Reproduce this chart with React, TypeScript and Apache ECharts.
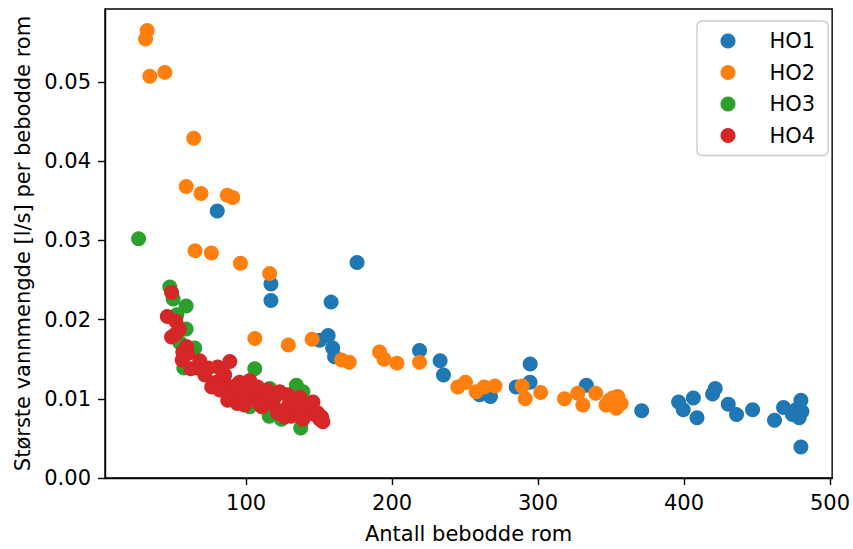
import React, { useEffect, useRef } from "react";
import * as echarts from "echarts";

const seriesNames = ["HO1", "HO2", "HO3", "HO4"];
const colors = ["#1f77b4", "#ff7f0e", "#2ca02c", "#d62728"];

const xTicks = [100, 200, 300, 400, 500];
const yTicks = [0, 0.01, 0.02, 0.03, 0.04, 0.05];

const ho1X = [80.2, 117.0, 117.0, 176.0, 158.2, 150.4, 156.2, 159.3, 160.6, 218.8, 232.9, 235.2, 259.9, 267.4, 294.6, 294.5, 285.0, 333.1, 371.0, 396.3, 399.5, 406.4, 408.9, 419.6, 421.4, 430.3, 436.0, 447.0, 462.0, 468.2, 474.3, 476.7, 480.1, 480.8, 478.9, 480.1];
const ho1Y = [0.0337, 0.0245, 0.0224, 0.0272, 0.0222, 0.0174, 0.018, 0.0164, 0.0153, 0.0161, 0.0148, 0.013, 0.0105, 0.0103, 0.0144, 0.0121, 0.0115, 0.0117, 0.0085, 0.0096, 0.0086, 0.0101, 0.0076, 0.0106, 0.0113, 0.0093, 0.008, 0.0086, 0.0073, 0.0089, 0.008, 0.0086, 0.0098, 0.0084, 0.0076, 0.0039];

const ho2X = [32.2, 31.1, 34.0, 44.3, 64.1, 58.9, 69.1, 87.1, 90.8, 65.0, 76.2, 96.1, 116.1, 106.0, 128.9, 145.2, 165.4, 170.6, 191.4, 194.5, 203.3, 218.8, 245.0, 250.3, 257.6, 263.1, 270.5, 289.1, 291.2, 301.8, 318.1, 327.2, 330.7, 339.5, 346.6, 351.1, 354.6, 353.5, 356.9, 348.9];
const ho2Y = [0.0565, 0.0554, 0.0507, 0.0512, 0.0429, 0.0368, 0.0359, 0.0357, 0.0354, 0.0287, 0.0284, 0.0271, 0.0258, 0.0176, 0.0168, 0.0175, 0.0149, 0.0146, 0.0159, 0.015, 0.0145, 0.0146, 0.0115, 0.0121, 0.0109, 0.0115, 0.0116, 0.0116, 0.01, 0.0108, 0.01, 0.0107, 0.0092, 0.0107, 0.0092, 0.0101, 0.0103, 0.0088, 0.0094, 0.0098];

const ho3X = [26.3, 47.7, 50.0, 58.9, 52.5, 58.9, 54.5, 64.8, 57.3, 105.9, 134.4, 138.9, 102.5, 115.8, 124.2, 137.4, 116.1, 131.2, 95.6];
const ho3Y = [0.0302, 0.0241, 0.0226, 0.0217, 0.0206, 0.0188, 0.0171, 0.0164, 0.0139, 0.0138, 0.0117, 0.0109, 0.009, 0.0078, 0.0074, 0.0063, 0.0113, 0.009, 0.0105];

const ho4X = [48.9, 46.0, 54.3, 48.9, 59.1, 56.2, 62.1, 66.4, 73.9, 78.8, 88.8, 84.7, 93.3, 93.9, 97.9, 95.6, 92.2, 104.7, 104.7, 109.3, 112.7, 118.4, 123.0, 126.4, 129.8, 131.0, 135.7, 138.9, 145.8, 146.9, 152.6, 150.4, 116.1, 125.2, 86.5, 79.7, 91.0, 85.3, 142.2, 99.7, 51.8, 56.6,
  71.7, 76.4, 81.9, 87.4, 99.0, 102.5, 107.9, 110.7, 114.8, 119.6, 121.6, 128.5, 133.3, 136.7, 140.1, 143.5, 149.0, 151.7, 136.7, 126.4, 112.7, 60.0, 68.2, 80.5, 51.8];
const ho4Y = [0.0234, 0.0204, 0.0188, 0.0178, 0.0166, 0.0149, 0.0138, 0.0139, 0.0139, 0.012, 0.0147, 0.0131, 0.0117, 0.0094, 0.0113, 0.0121, 0.0109, 0.011, 0.01, 0.0094, 0.0105, 0.0092, 0.0109, 0.0086, 0.0096, 0.0078, 0.0086, 0.0074, 0.0096, 0.008, 0.0071, 0.0074, 0.0096, 0.0084, 0.0117, 0.0121, 0.0105, 0.013, 0.0082, 0.0102, 0.0182, 0.0159,
  0.013, 0.0115, 0.0111, 0.0098, 0.0092, 0.0123, 0.0115, 0.009, 0.0111, 0.0102, 0.0082, 0.0105, 0.0095, 0.008, 0.0092, 0.009, 0.0082, 0.0077, 0.0102, 0.0077, 0.0098, 0.0157, 0.0148, 0.014, 0.0198];

const xs = [ho1X, ho2X, ho3X, ho4X];
const ys = [ho1Y, ho2Y, ho3Y, ho4Y];

const FONT = "DejaVu Sans";

export default function App() {
  const ref = useRef<HTMLDivElement>(null);
  useEffect(() => {
    if (!ref.current) return;
    const chart = echarts.init(ref.current, null, { renderer: "svg" });
    chart.setOption({
      animation: false,
      grid: {
        left: 105,
        right: 20,
        top: 9,
        bottom: 65,
        show: true,
        borderColor: "#000",
        borderWidth: 1.4,
        backgroundColor: "transparent",
      },
      legend: {
        data: seriesNames,
        orient: "vertical",
        left: 697,
        top: 21,
        icon: "circle",
        itemWidth: 15,
        itemHeight: 15,
        itemGap: 9.5,
        padding: [9, 13, 9, 23.5],
        backgroundColor: "rgba(255,255,255,0.8)",
        borderColor: "#cccccc",
        borderWidth: 1.4,
        borderRadius: 5,
        textStyle: {
          fontFamily: FONT,
          fontSize: 21,
          color: "#000",
          lineHeight: 22,
          padding: [0, 0, 0, 29],
        },
      },
      xAxis: {
        type: "value",
        min: 3.3,
        max: 501.5,
        name: "Antall bebodde rom",
        nameLocation: "middle",
        nameGap: 45,
        nameTextStyle: { fontFamily: FONT, fontSize: 21, color: "#000" },
        axisLine: { show: true, onZero: false, lineStyle: { color: "#000", width: 1.4 } },
        axisTick: { show: true, length: 7, lineStyle: { color: "#000", width: 1.4 }, customValues: xTicks },
        axisLabel: { fontFamily: FONT, fontSize: 21, color: "#000", margin: 14, customValues: xTicks },
        splitLine: { show: false },
      },
      yAxis: {
        type: "value",
        min: 0,
        max: 0.0592,
        name: "Største vannmengde [l/s] per bebodde rom",
        nameLocation: "middle",
        nameRotate: 90,
        nameGap: 70,
        nameTextStyle: { fontFamily: FONT, fontSize: 21, color: "#000" },
        axisLine: { show: true, onZero: false, lineStyle: { color: "#000", width: 1.4 } },
        axisTick: { show: true, length: 7, lineStyle: { color: "#000", width: 1.4 }, customValues: yTicks },
        axisLabel: {
          fontFamily: FONT,
          fontSize: 21,
          color: "#000",
          margin: 14,
          customValues: yTicks,
          formatter: (v: number) => v.toFixed(2),
        },
        splitLine: { show: false },
      },
      series: seriesNames.map((name, i) => ({
        name,
        type: "scatter",
        symbol: "circle",
        symbolSize: 15,
        itemStyle: { color: colors[i], opacity: 1 },
        emphasis: { disabled: true },
        data: xs[i].map((x, j) => [x, ys[i][j]]),
      })),
    });
    return () => chart.dispose();
  }, []);
  return (
    <div
      ref={ref}
      style={{ position: "absolute", left: 0, top: 0, width: 853, height: 549, background: "#fff" }}
    />
  );
}
